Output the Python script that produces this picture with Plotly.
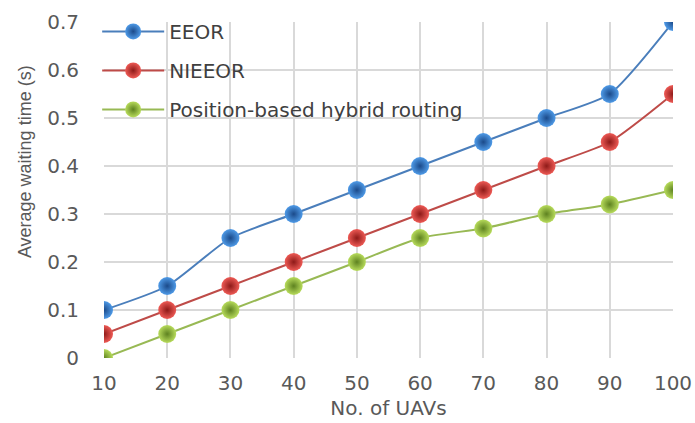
import plotly.graph_objects as go

# Number of UAVs on the x axis
uavs = [10, 20, 30, 40, 50, 60, 70, 80, 90, 100]

# Average waiting time (s) for each routing scheme
eeor = [0.10, 0.15, 0.25, 0.30, 0.35, 0.40, 0.45, 0.50, 0.55, 0.70]
nieeor = [0.05, 0.10, 0.15, 0.20, 0.25, 0.30, 0.35, 0.40, 0.45, 0.55]
hybrid = [0.00, 0.05, 0.10, 0.15, 0.20, 0.25, 0.27, 0.30, 0.32, 0.35]

y_ticks = [0, 0.1, 0.2, 0.3, 0.4, 0.5, 0.6, 0.7]
y_tick_text = ["0", "0.1", "0.2", "0.3", "0.4", "0.5", "0.6", "0.7"]

# name, values, line colour, ball centre colour, ball edge colour, legend group
series = [
    ("EEOR", eeor, "#4a7ebb", "#4f9be8", "#1b4a8a", "g1"),
    ("NIEEOR", nieeor, "#be4b48", "#ee5a55", "#8e1a18", "g2"),
    ("Position-based hybrid routing", hybrid, "#98b954", "#b8dc5c", "#5e8220", "g3"),
]

fig = go.Figure()
for name, vals, line_col, centre, edge, grp in series:
    fig.add_trace(go.Scatter(
        x=uavs, y=vals, name=name, mode="lines+markers",
        legendgroup=grp,
        line=dict(color=line_col, width=2, shape="spline", smoothing=0.6),
        marker=dict(size=18, color=centre, symbol="circle",
                    gradient=dict(type="radial", color=edge),
                    line=dict(width=0)),
    ))

fig.update_layout(
    width=695, height=423,
    margin=dict(l=104, r=22, t=19, b=65),
    paper_bgcolor="white", plot_bgcolor="white",
    font=dict(family="DejaVu Sans, sans-serif", color="#595959", size=20),
    showlegend=True,
    legend=dict(
        x=-0.012, y=1.03, xanchor="left", yanchor="top",
        bgcolor="rgba(0,0,0,0)",
        font=dict(family="DejaVu Sans, sans-serif", size=20, color="#404040"),
        tracegroupgap=10, itemwidth=62,
    ),
    xaxis=dict(
        range=[10, 100], tickmode="array", tickvals=uavs,
        showgrid=True, gridcolor="#d9d9d9", gridwidth=1.5,
        zeroline=False, showline=False, ticks="", automargin=False,
        ticklabelstandoff=11,
        title=dict(text="No. of UAVs", font=dict(size=20, color="#595959"), standoff=6),
    ),
    yaxis=dict(
        range=[0, 0.7], tickmode="array", tickvals=y_ticks, ticktext=y_tick_text,
        showgrid=True, gridcolor="#d9d9d9", gridwidth=1.5,
        zeroline=False, showline=False, ticks="", automargin=False,
        ticklabelstandoff=24,
    ),
    annotations=[dict(
        text="Average waiting time (s)", textangle=-90,
        xref="paper", yref="paper", x=-0.14, y=0.584,
        xanchor="center", yanchor="middle", showarrow=False,
        font=dict(family="Liberation Sans Narrow, sans-serif", size=18, color="#595959"),
    )],
)

fig.write_html("out.html")
